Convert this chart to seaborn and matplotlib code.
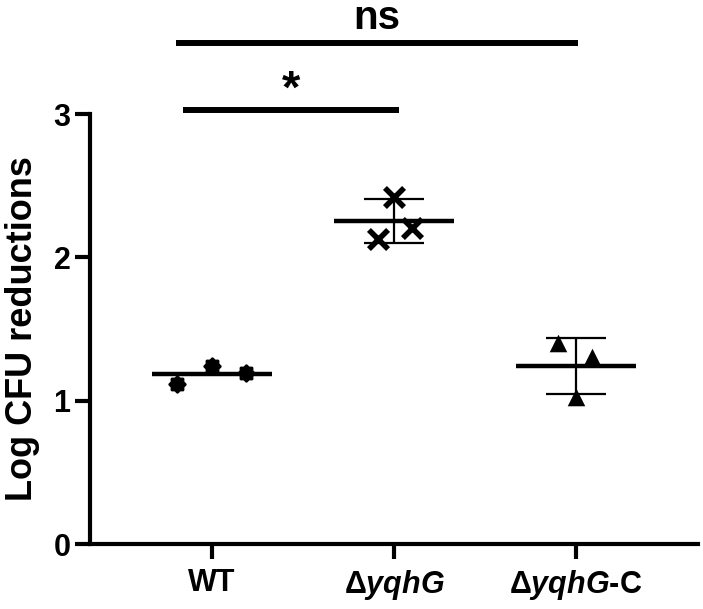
import matplotlib
matplotlib.use("Agg")
import matplotlib.pyplot as plt
import seaborn as sns
import numpy as np
import pandas as pd

# ---- data ----
groups = ["WT", "ΔyqhG", "ΔyqhG-C"]
tick_labels = ["WT", "Δ$\\mathit{yqhG}$", "Δ$\\mathit{yqhG}$-C"]
wt_vals = [1.117, 1.244, 1.195]
yqhg_vals = [2.128, 2.424, 2.203]
yqhgc_vals = [1.400, 1.307, 1.026]
sig_labels = ["*", "ns"]
yticks = [0, 1, 2, 3]

# ---- style ----
sns.set_theme(style="ticks")
plt.rcParams["font.family"] = ["Liberation Sans", "DejaVu Sans"]
plt.rcParams["font.weight"] = "bold"
plt.rcParams["mathtext.fontset"] = "custom"
plt.rcParams["mathtext.it"] = "Liberation Sans:italic:bold"
plt.rcParams["mathtext.rm"] = "Liberation Sans:bold"
plt.rcParams["mathtext.bf"] = "Liberation Sans:bold"
for k in ["text.color", "axes.labelcolor", "xtick.color", "ytick.color",
          "axes.edgecolor"]:
    plt.rcParams[k] = "black"

# replicate horizontal scatter (visual spread in the picture)
spread = {"WT": [-0.194, -0.002, 0.185],
          "ΔyqhG": [-0.09, 0.0, 0.097],
          "ΔyqhG-C": [-0.10, 0.09, 0.0]}

vals = {"WT": wt_vals, "ΔyqhG": yqhg_vals, "ΔyqhG-C": yqhgc_vals}
rows = []
for gi, g in enumerate(groups):
    for v, off in zip(vals[g], spread[g]):
        rows.append({"group": g, "gi": gi, "x": gi + off, "value": v})
df = pd.DataFrame(rows)

fig = plt.figure(figsize=(7.03, 6.09), dpi=100)
ax = fig.add_axes([90 / 703, 65 / 609, 608 / 703, 430 / 609])

# gear-like marker for WT
n = 16
ang = np.linspace(0, 2 * np.pi, n * 4, endpoint=False)
r = 1 - 0.18 * (0.5 - 0.5 * np.cos(ang * (n / 2)))
gear = np.column_stack([r * np.cos(ang), r * np.sin(ang)])

marker_specs = {
    "WT": dict(marker=gear, s=175, linewidth=0),
    "ΔyqhG": dict(marker="x", s=190, linewidth=4),
    "ΔyqhG-C": dict(marker="^", s=160, linewidth=0),
}

for g in groups:
    sub = df[df.group == g]
    sns.scatterplot(data=sub, x="x", y="value", color="black", ax=ax,
                    zorder=5, legend=False, **marker_specs[g])

stats = df.groupby("gi")["value"].agg(["mean", "std"]).reset_index()

# mean lines
ax.hlines(stats["mean"], stats["gi"] - 0.33, stats["gi"] + 0.33,
          color="black", linewidth=3.2, zorder=4)
# SD error bars (not visible for WT in the reference)
eb = stats[stats.gi > 0]
ax.errorbar(eb["gi"], eb["mean"], yerr=eb["std"], fmt="none",
            ecolor="black", elinewidth=1.6, capsize=21.6, capthick=1.6,
            zorder=3)

ax.set_xlim(-0.67, 2.67)
ax.set_ylim(0, 3)
ax.set_yticks(yticks)
ax.set_xticks(range(len(groups)))
ax.set_xticklabels(tick_labels)
ax.set_xlabel("")
ax.set_ylabel("Log CFU reductions", fontsize=26, fontweight="bold", labelpad=10)

for s in ["top", "right"]:
    ax.spines[s].set_visible(False)
for s in ["left", "bottom"]:
    ax.spines[s].set_linewidth(3)
ax.tick_params(axis="both", length=11, width=3, labelsize=22, color="black",
               labelcolor="black")
ax.tick_params(axis="y", pad=3)
ax.tick_params(axis="x", pad=6)
for lab in ax.get_xticklabels() + ax.get_yticklabels():
    lab.set_fontweight("bold")

# significance annotations
def sig(x0, x1, y, text, ty, size):
    ax.plot([x0, x1], [y, y], color="black", linewidth=4.3,
            clip_on=False, solid_capstyle="butt")
    ax.text((x0 + x1) / 2, ty, text, ha="center", va="baseline",
            fontsize=size, fontweight="bold", clip_on=False)

sig(-0.16, 1.03, 3.03, sig_labels[0], 3.08, 34)
sig(-0.20, 2.01, 3.494, sig_labels[1], 3.595, 29)

fig.savefig("out.png", dpi=100)
